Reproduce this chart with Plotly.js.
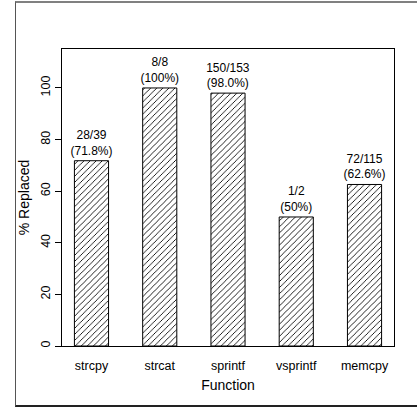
<!DOCTYPE html>
<html>
<head>
<meta charset="utf-8">
<script src="https://cdn.plot.ly/plotly-3.0.1.min.js"></script>
<style>
  html, body { margin: 0; padding: 0; background: #fff; }
  #wrap { position: relative; width: 417px; height: 410px; overflow: hidden; }
  #chart { position: absolute; left: 0; top: 0; width: 417px; height: 410px; }
  #frame { position: absolute; left: 15px; top: 1px; width: 600px; height: 402px;
           border-top: 2px solid #808080; border-left: 1px solid #555; border-bottom: 2px solid #222;
           pointer-events: none; }
</style>
</head>
<body>
<div id="wrap">
  <div id="chart"></div>
  <div id="frame"></div>
</div>
<script>
const functions = ["strcpy", "strcat", "sprintf", "vsprintf", "memcpy"];
const replaced = [28, 8, 150, 1, 72];
const totals = [39, 8, 153, 2, 115];
const percentReplaced = [71.8, 100, 98.0, 50, 62.6];
const percentLabels = ["71.8%", "100%", "98.0%", "50%", "62.6%"];
const yTicks = [0, 20, 40, 60, 80, 100];

const barText = functions.map((f, i) => replaced[i] + "/" + totals[i] + "<br>(" + percentLabels[i] + ")");

const font = "Liberation Sans, Arial, Helvetica, sans-serif";

const trace = {
  type: "bar",
  x: functions,
  y: percentReplaced,
  width: 0.5,
  text: barText,
  textposition: "outside",
  cliponaxis: false,
  constraintext: "none",
  textfont: { family: font, size: 12, color: "#000" },
  marker: {
    color: "#fff",
    line: { color: "#000", width: 1 },
    pattern: { shape: "/", size: 4.3, solidity: 0.2, fgcolor: "#000", bgcolor: "#fff" }
  },
  hoverinfo: "none"
};

const layout = {
  width: 417,
  height: 410,
  margin: { l: 62, r: 23, t: 49, b: 64 },
  paper_bgcolor: "#fff",
  plot_bgcolor: "#fff",
  showlegend: false,
  font: { family: font, color: "#000", size: 12 },
  xaxis: {
    type: "category",
    range: [-0.432, 4.432],
    showline: true, mirror: true, linecolor: "#000", linewidth: 1,
    ticks: "", showgrid: false, zeroline: false,
    ticklabelstandoff: 8,
    tickfont: { family: font, size: 12.5 },
    title: { text: "Function", font: { family: font, size: 14 }, standoff: 8 },
    automargin: false
  },
  yaxis: {
    range: [0, 115.1],
    tickvals: yTicks,
    ticktext: yTicks.map(String),
    tickangle: -90,
    ticks: "outside", ticklen: 6, tickcolor: "#000", tickwidth: 1,
    showline: true, mirror: true, linecolor: "#000", linewidth: 1,
    showgrid: false, zeroline: false,
    tickfont: { family: font, size: 12.5 },
    title: { text: "% Replaced", font: { family: font, size: 14 }, standoff: 6 },
    automargin: false
  }
};

Plotly.newPlot("chart", [trace], layout, { staticPlot: true, displayModeBar: false });
</script>
</body>
</html>
